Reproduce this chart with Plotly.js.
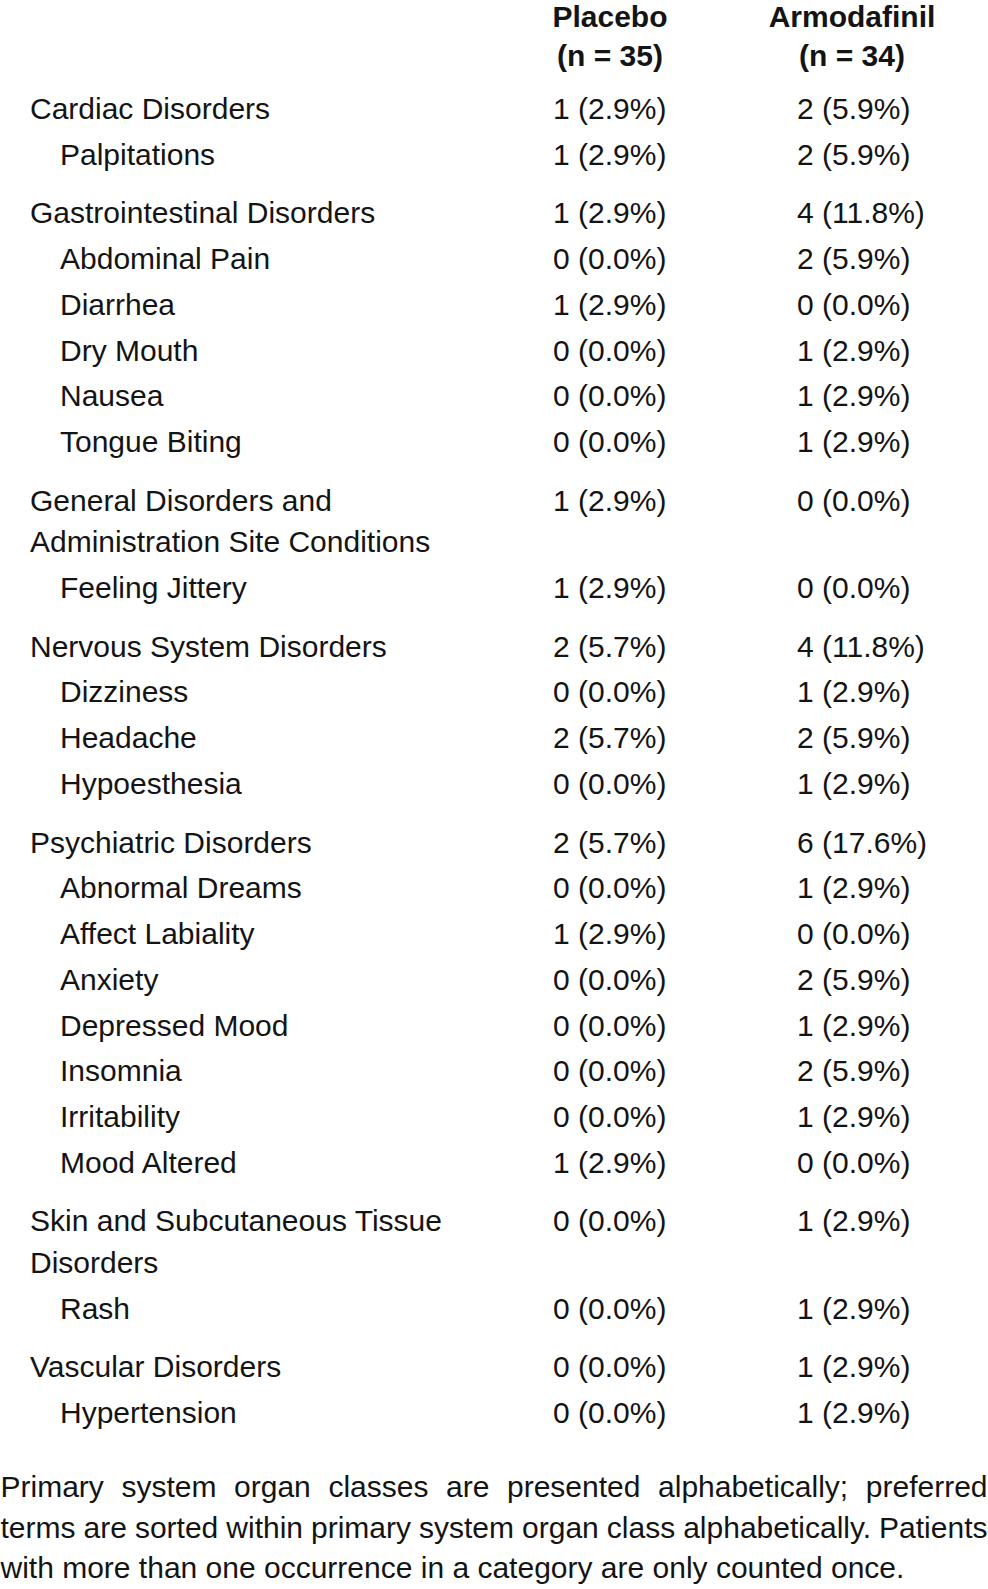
<!DOCTYPE html>
<html>
<head>
<meta charset="utf-8">
<script src="https://cdn.plot.ly/plotly-3.0.1.min.js"></script>
<style>
html,body{margin:0;padding:0;background:#ffffff;}
#chart{width:988px;height:1589px;}
</style>
</head>
<body>
<div id="chart"></div>
<script>
// ---------------- data ----------------
const columnHeaders = ["Placebo", "Armodafinil"];
const columnN = [35, 34];

const labels = [
  "Cardiac Disorders", "Palpitations",
  "Gastrointestinal Disorders", "Abdominal Pain", "Diarrhea", "Dry Mouth", "Nausea", "Tongue Biting",
  "General Disorders and<br>Administration Site Conditions", "Feeling Jittery",
  "Nervous System Disorders", "Dizziness", "Headache", "Hypoesthesia",
  "Psychiatric Disorders", "Abnormal Dreams", "Affect Labiality", "Anxiety", "Depressed Mood", "Insomnia", "Irritability", "Mood Altered",
  "Skin and Subcutaneous Tissue<br>Disorders", "Rash",
  "Vascular Disorders", "Hypertension"
];
// 0 = primary system organ class, 1 = preferred term
const levels = [0,1, 0,1,1,1,1,1, 0,1, 0,1,1,1, 0,1,1,1,1,1,1,1, 0,1, 0,1];

const placeboCount = [1,1, 1,0,1,0,0,0, 1,1, 2,0,2,0, 2,0,1,0,0,0,0,1, 0,0, 0,0];
const placeboPct   = ["2.9","2.9", "2.9","0.0","2.9","0.0","0.0","0.0", "2.9","2.9", "5.7","0.0","5.7","0.0", "5.7","0.0","2.9","0.0","0.0","0.0","0.0","2.9", "0.0","0.0", "0.0","0.0"];
const armodafinilCount = [2,2, 4,2,0,1,1,1, 0,0, 4,1,2,1, 6,1,0,2,1,2,1,0, 1,1, 1,1];
const armodafinilPct   = ["5.9","5.9", "11.8","5.9","0.0","2.9","2.9","2.9", "0.0","0.0", "11.8","2.9","5.9","2.9", "17.6","2.9","0.0","5.9","2.9","5.9","2.9","0.0", "2.9","2.9", "2.9","2.9"];

const footnoteLines = [
  "Primary system organ classes are presented alphabetically; preferred",
  "terms are sorted within primary system organ class alphabetically. Patients",
  "with more than one occurrence in a category are only counted once."
];

// ---------------- layout constants ----------------
const W = 988, H = 1589;
const FONT = "'Liberation Sans', Arial, Helvetica, sans-serif";
const FS = 30;
const COLOR = "#141414";
const ROW = 45.75, WRAP = 41.5, GAP = 12.9, FIRST_Y = 111.4;
const X_CLASS = 30, X_TERM = 60;
const X_COL = [553, 797];
const HEAD_X = [610, 852];
const HEAD_Y = [19, 58.5];
const FOOT_GAP = 74, FOOT_LINE = 40.5;

// ---------------- row positions ----------------
const labelX = [], labelY = [], labelT = [];
const rowY = [];
let y = FIRST_Y;
labels.forEach((lab, i) => {
  if (i > 0) { y += ROW; if (levels[i] === 0) y += GAP; }
  rowY.push(y);
  lab.split("<br>").forEach((ln, j) => {
    if (j > 0) y += WRAP;
    labelX.push(levels[i] ? X_TERM : X_CLASS);
    labelY.push(y);
    labelT.push(ln);
  });
});

const textfont = {family: FONT, size: FS, color: COLOR};
function textTrace(xs, ys, ts, pos, font) {
  return {type: "scatter", mode: "text", x: xs, y: ys, text: ts,
          textposition: pos, textfont: font || textfont,
          hoverinfo: "skip", cliponaxis: false, showlegend: false};
}

const traces = [];
traces.push(textTrace(labelX, labelY, labelT, "middle right"));
traces.push(textTrace(rowY.map(() => X_COL[0]), rowY,
  placeboCount.map((c, i) => c + " (" + placeboPct[i] + "%)"), "middle right"));
traces.push(textTrace(rowY.map(() => X_COL[1]), rowY,
  armodafinilCount.map((c, i) => c + " (" + armodafinilPct[i] + "%)"), "middle right"));

// headers
const hx = [], hy = [], ht = [];
columnHeaders.forEach((h, i) => {
  hx.push(HEAD_X[i]); hy.push(HEAD_Y[0]); ht.push("<b>" + h + "</b>");
  hx.push(HEAD_X[i]); hy.push(HEAD_Y[1]); ht.push("<b>(n = " + columnN[i] + ")</b>");
});
traces.push(textTrace(hx, hy, ht, "middle center"));

// footnote (justified)
const ctx = document.createElement("canvas").getContext("2d");
ctx.font = FS + "px 'Liberation Sans', Arial, sans-serif";
const fx = [], fy = [], ft = [];
const footY0 = rowY[rowY.length - 1] + FOOT_GAP;
footnoteLines.forEach((line, li) => {
  const ly = footY0 + li * FOOT_LINE;
  if (li === footnoteLines.length - 1) {
    fx.push(0.5); fy.push(ly); ft.push(line);
    return;
  }
  const words = line.split(" ");
  const widths = words.map(w => ctx.measureText(w).width);
  const total = widths.reduce((a, b) => a + b, 0);
  const gap = (W - 1 - total) / (words.length - 1);
  let cx = 0.5;
  words.forEach((w, k) => {
    fx.push(cx); fy.push(ly); ft.push(w);
    cx += widths[k] + gap;
  });
});
traces.push(textTrace(fx, fy, ft, "middle right"));

const layout = {
  width: W, height: H,
  margin: {l: 0, r: 0, t: 0, b: 0, pad: 0},
  paper_bgcolor: "#ffffff", plot_bgcolor: "#ffffff",
  showlegend: false,
  xaxis: {range: [0, W], visible: false, fixedrange: true},
  yaxis: {range: [H, 0], visible: false, fixedrange: true},
  font: {family: FONT, color: COLOR}
};

Plotly.newPlot("chart", traces, layout, {staticPlot: true, displayModeBar: false});
</script>
</body>
</html>
